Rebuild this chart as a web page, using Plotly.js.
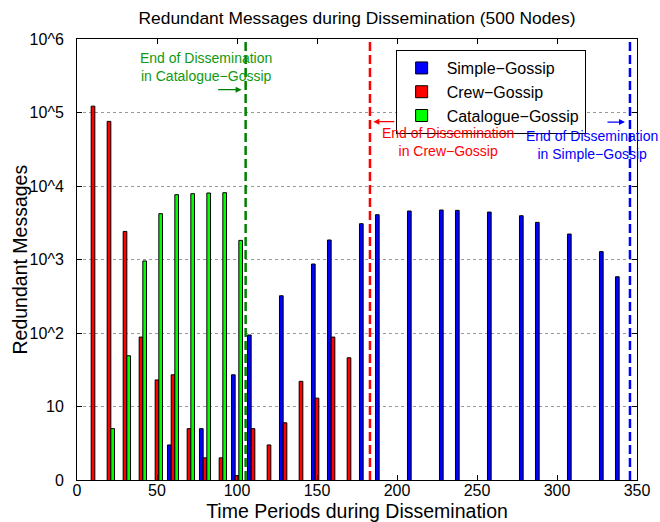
<!DOCTYPE html>
<html>
<head>
<meta charset="utf-8">
<script src="https://cdn.plot.ly/plotly-3.0.1.min.js"></script>
<style>html,body{margin:0;padding:0;background:#fff;}#chart{width:660px;height:522px;}</style>
</head>
<body>
<div id="chart"></div>
<script>
// Time periods (group centres)
const periods = [10,20,30,40,50,60,70,80,90,100,110,120,130,140,150,160,170,180,190,200,210,220,230,240,250,260,270,280,290,300,310,320,330,340];
// Redundant messages per series (null = no bar)
const simpleGossip = [null,null,null,null,null,3,null,5,null,27,94,null,321,null,868,1842,null,3070,4070,null,4570,null,4710,4660,null,4420,null,3940,3200,null,2220,null,1280,583];
const crewGossip = [122000,75700,2410,88,23,27,5,2,2,1.15,5,3,6,22,13,88,46,null,null,null,null,null,null,null,null,null,null,null,null,null,null,null,null,null];
const catalogueGossip = [null,5,49,955,4200,7620,7860,8030,8110,1820,null,null,null,null,null,null,null,null,null,null,null,null,null,null,null,null,null,null,null,null,null,null,null,null];
const seriesNames = ['Simple\u2212Gossip','Crew\u2212Gossip','Catalogue\u2212Gossip'];
// End of dissemination time for each protocol
const endCatalogue = 105.4, endCrew = 183.1, endSimple = 345.6;
const yTickVals = [1,10,100,1000,10000,100000,1000000];
const yTickText = ['0','10','10^2','10^3','10^4','10^5','10^6'];
const xTickVals = [0,50,100,150,200,250,300,350];

const REG = 'Liberation Sans, Arial, Helvetica, sans-serif';
const NAR = 'Liberation Sans Narrow, Arial Narrow, Liberation Sans, sans-serif';

const mk = (name, y, color) => ({
  type: 'bar', name: name, x: periods, y: y,
  marker: {color: color, line: {color: '#000', width: 1}}
});
const data = [
  mk(seriesNames[0], simpleGossip, '#0000ff'),
  mk(seriesNames[1], crewGossip, '#ff0000'),
  mk(seriesNames[2], catalogueGossip, '#00ff00')
];

const vline = (x, color) => ({type:'line', xref:'x', yref:'paper', x0:x, x1:x, y0:0, y1:1,
  line:{color:color, width:2.5, dash:'9px,4px'}});
const txt = (x, y, text, color) => ({xref:'x', yref:'y', x:x, y:y, text:text, showarrow:false,
  font:{family:REG, size:14, color:color}, align:'center', borderpad:0});
const arr = (x, ax, y, color) => ({xref:'x', yref:'y', axref:'x', ayref:'y', x:x, y:y, ax:ax, ay:y,
  text:'', showarrow:true, arrowhead:2, arrowsize:1, arrowwidth:1.2, arrowcolor:color, standoff:0, startstandoff:0});

const layout = {
  width: 660, height: 522,
  margin: {l:77, r:23, t:39, b:42},
  paper_bgcolor:'#fff', plot_bgcolor:'#fff',
  title: {text:'Redundant Messages during Dissemination (500 Nodes)', font:{family:REG, size:17.4, color:'#000'},
          x:0.5, xref:'paper', xanchor:'center', y:1-18/522, yref:'container', yanchor:'middle'},
  barmode:'group', bargap:0.31, bargroupgap:0,
  showlegend:true,
  legend:{x:0.569, y:0.975, xanchor:'left', yanchor:'top', bgcolor:'#fff', bordercolor:'#000', borderwidth:1,
          font:{family:REG, size:16, color:'#000'}, tracegroupgap:0, traceorder:'normal', itemwidth:40},
  xaxis:{range:[0,350], tickvals:xTickVals, ticks:'inside', ticklen:5, tickcolor:'#000',
         showline:true, linecolor:'#000', linewidth:1, mirror:'ticks', showgrid:false, zeroline:false,
         tickfont:{family:NAR, size:16, color:'#000'}, ticklabelstandoff:-4, automargin:false,
         title:{text:'Time Periods during Dissemination', font:{family:NAR, size:19.5, color:'#000'}, standoff:6}},
  yaxis:{type:'log', range:[0,6], tickvals:yTickVals, ticktext:yTickText, ticks:'inside', ticklen:5, tickcolor:'#000',
         showline:true, linecolor:'#000', linewidth:1, mirror:'ticks', showgrid:true, gridcolor:'#999', griddash:'dot', gridwidth:1,
         zeroline:false, tickfont:{family:NAR, size:16, color:'#000'}, ticklabelstandoff:9, automargin:false,
         title:{text:''}},
  shapes:[vline(endCatalogue,'#008000'), vline(endCrew,'#ff0000'), vline(endSimple,'#0000ff')],
  annotations:[
    {xref:'paper', yref:'paper', x:(19-77)/560, y:0.5, xanchor:'center', yanchor:'middle', textangle:-90,
     text:'Redundant Messages', showarrow:false, font:{family:REG, size:19.5, color:'#000'}},
    txt(80.6, 5.616, 'End of Dissemination<br>in Catalogue\u2212Gossip', '#119911'),
    txt(231.8, 4.6, 'End of Dissemination<br>in Crew\u2212Gossip', '#ff0000'),
    txt(321.6, 4.562, 'End of Dissemination<br>in Simple\u2212Gossip', '#0000ff'),
    arr(102.9, 87.3, 5.31, '#008000'),
    arr(185.2, 199.2, 4.875, '#ff0000'),
    arr(342.5, 330.6, 4.87, '#0000ff')
  ]
};
Plotly.newPlot('chart', data, layout, {displayModeBar:false, staticPlot:true});
</script>
</body>
</html>
